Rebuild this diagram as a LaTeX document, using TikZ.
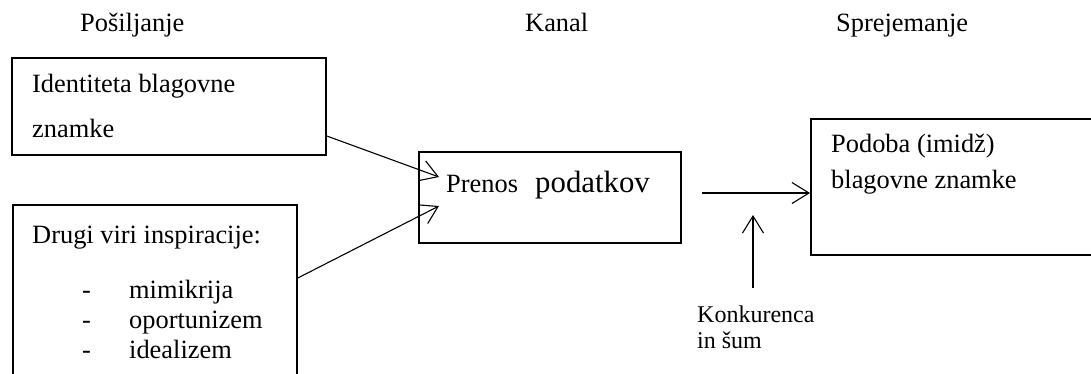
\documentclass[tikz,border=0pt]{standalone}
\usepackage{fontspec}
\setmainfont{Liberation Serif}
\usetikzlibrary{arrows.meta}
\begin{document}
\begin{tikzpicture}[x=1pt,y=-1pt,
  txt/.style={inner sep=0pt, anchor=base west, font=\fontsize{26.4}{30}\selectfont},
  bigtxt/.style={inner sep=0pt, anchor=base west, font=\fontsize{30.8}{34}\selectfont},
  smalltxt/.style={inner sep=0pt, anchor=base west, font=\fontsize{24}{27}\selectfont},
  box/.style={draw, line width=1.8pt, inner sep=0pt, anchor=north west},
  arr/.style={line width=1.1pt, -{Straight Barb[length=17pt,width=21pt,line width=1.1pt]}}]
\useasboundingbox (0,0) rectangle (1091,374);
% headings
\node[txt] (h1) at (80,32) {Pošiljanje};
\node[txt] (h2) at (525,32) {Kanal};
\node[txt] (h3) at (836,32) {Sprejemanje};
% boxes
\node[box, minimum width=314pt, minimum height=97pt] (b1) at (11,57) {};
\node[box, minimum width=284pt, minimum height=180pt] (b2) at (12,204) {};
\node[box, minimum width=262pt, minimum height=91pt] (b3) at (418,151) {};
\node[box, minimum width=290pt, minimum height=136pt] (b4) at (810,118) {};
% box texts
\node[txt] (t1a) at (32,93) {Identiteta blagovne};
\node[txt] (t1b) at (32,138) {znamke};
\node[txt] (t2a) at (32,243) {Drugi viri inspiracije:};
\node[txt] (d1) at (82,298) {-};
\node[txt] (d2) at (82,328) {-};
\node[txt] (d3) at (82,358) {-};
\node[txt] (l1) at (129,298) {mimikrija};
\node[txt] (l2) at (129,328) {oportunizem};
\node[txt] (l3) at (129,358) {idealizem};
\node[txt] (t3a) at (446,192) {Prenos};
\node[bigtxt] (t3b) at (535,192) {podatkov};
\node[txt] (t4a) at (831,153) {Podoba (imidž)};
\node[txt] (t4b) at (831,188) {blagovne znamke};
\node[smalltxt] (k1) at (697,322) {Konkurenca};
\node[smalltxt] (k2) at (697,348) {in šum};
% connector points
\coordinate (a1s) at (325,136);
\coordinate (a1e) at (439,177);
\coordinate (a2s) at (296,278);
\coordinate (a2e) at (439,206);
\coordinate (a3s) at (702,193);
\coordinate (a4s) at (753,288);
\coordinate (a4e) at (753,215);
% connectors
\draw[arr] (b1.east |- a1s) -- (a1e);
\draw[arr] (b2.east |- a2s) -- (a2e);
\draw[arr] (a3s) -- (b4.west |- a3s);
\draw[arr] (a4s) -- (a4e);
\end{tikzpicture}
\end{document}
